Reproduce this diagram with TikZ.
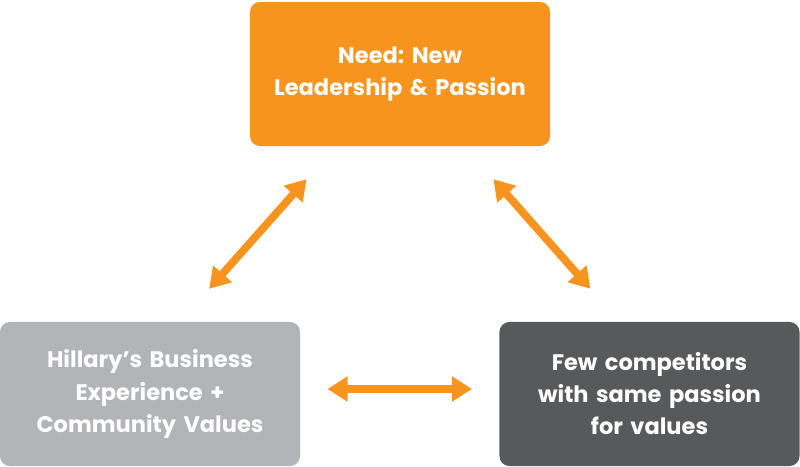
\documentclass[tikz,border=0pt]{standalone}
\usepackage{fontspec}
\setmainfont{Poppins}
\usepackage{tikz}
\usetikzlibrary{positioning,arrows.meta}
\usepackage{xcolor}
\definecolor{need orange}{HTML}{F7941E}
\definecolor{light grey}{HTML}{B2B4B7}
\definecolor{dark grey}{HTML}{58595B}
\frenchspacing

\begin{document}
\begin{tikzpicture}[x=0.025cm,y=-0.025cm,
    box/.style={rounded corners=0.25cm,minimum width=7.5cm,minimum height=3.6cm,
      inner sep=0pt,text width=7cm,align=center,text=white,
      font=\fontsize{16}{22.8}\selectfont\bfseries},
    link/.style={need orange,line width=5.5pt,
      {Triangle[length=0.5cm,width=0.6cm]}-{Triangle[length=0.5cm,width=0.6cm]}}]
      \useasboundingbox (0,0) rectangle (800,466);
      % the three boxes
      \node[box,fill=need orange] (need) at (400,74) {Need: New\\Leadership \& Passion};
      \node[box,fill=light grey] (hillary) at (150,394) {Hillary’s Business\\Experience +\\Community Values};
      \node[box,fill=dark grey] (competitors) at (649.5,394) {Few competitors\\with same passion\\for values};
      % double arrows between them
      \draw[link,shorten <=1.1cm,shorten >=1.1cm] ([xshift=0.75cm]hillary.north) -- ([xshift=2.15cm]need.south west);
      \draw[link,shorten <=1.1cm,shorten >=1.1cm] ([xshift=-2.15cm]need.south east) -- ([xshift=-0.75cm]competitors.north);
      \draw[link,shorten <=0.68cm,shorten >=0.68cm] ([yshift=0.125cm]hillary.east) -- ([yshift=0.125cm]competitors.west);
    \end{tikzpicture}
\end{document}
